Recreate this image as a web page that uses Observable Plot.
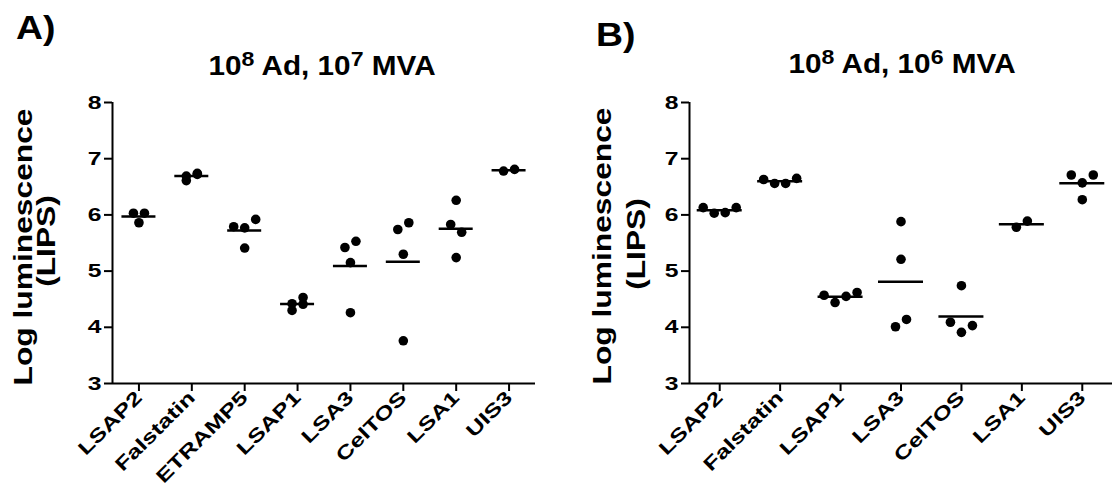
<!DOCTYPE html>
<html>
<head>
<meta charset="utf-8">
<script src="https://cdn.jsdelivr.net/npm/d3@7"></script>
<script src="https://cdn.jsdelivr.net/npm/@observablehq/plot@0.6"></script>
<style>
  html, body { margin: 0; padding: 0; background: #fff; }
  #wrap { position: relative; width: 1112px; height: 486px; overflow: hidden;
          font-family: "Liberation Sans", Arial, sans-serif; font-weight: bold; color: #000; }
  .panel { position: absolute; top: 0; }
  .lbl { position: absolute; white-space: nowrap; line-height: 1; }
  .sup { font-size: 0.78em; position: relative; top: -0.42em; }
  [aria-label$="-axis tick"] { stroke-width: 2px; }
  .tick line { stroke-width: 2px; }
</style>
</head>
<body>
<div id="wrap"></div>
<script>
// ---------------- data ----------------
const panelA_title = ["10", "8", " Ad, 10", "7", " MVA"];
const panelB_title = ["10", "8", " Ad, 10", "6", " MVA"];
const yLabelLine1 = "Log luminescence";
const yLabelLine2 = "(LIPS)";
const yTicks = [3, 4, 5, 6, 7, 8];

const panelA_categories = ["LSAP2", "Falstatin", "ETRAMP5", "LSAP1", "LSA3", "CelTOS", "LSA1", "UIS3"];
const panelA_values = [
  [6.03, 5.86, 6.03],
  [6.69, 6.72, 6.61, 6.74],
  [5.79, 5.41, 5.77, 5.92],
  [4.42, 4.41, 4.30, 4.53],
  [5.42, 5.53, 5.15, 4.26],
  [5.74, 5.86, 5.30, 3.76],
  [6.26, 5.83, 5.69, 5.24],
  [6.78, 6.81]
];

const panelB_categories = ["LSAP2", "Falstatin", "LSAP1", "LSA3", "CelTOS", "LSA1", "UIS3"];
const panelB_values = [
  [6.13, 6.03, 6.04, 6.13],
  [6.63, 6.56, 6.56, 6.65],
  [4.57, 4.44, 4.55, 4.62],
  [5.88, 5.21, 4.01, 4.14],
  [4.74, 4.09, 3.91, 4.03],
  [5.78, 5.89],
  [6.71, 6.57, 6.71, 6.27]
];

// ---------------- layout helpers ----------------
const H = 486, MT = 102, MB = 103;
const plotH = H - MT - MB;
const pxPerUnit = plotH / (yTicks[yTicks.length - 1] - yTicks[0]);

// Spread overlapping points horizontally (scatter-dot style)
function spread(cats, vals, spacingPx, maxPerRow, thresholdPx) {
  const pts = [];
  cats.forEach((c, i) => {
    const items = vals[i].map((v, k) => ({cat: c, i, v, k, off: 0}));
    const sorted = items.slice().sort((a, b) => a.v - b.v);
    const rows = [];
    let cur = [sorted[0]];
    for (let j = 1; j < sorted.length; j++) {
      if ((sorted[j].v - sorted[j - 1].v) * pxPerUnit < thresholdPx) cur.push(sorted[j]);
      else { rows.push(cur); cur = [sorted[j]]; }
    }
    rows.push(cur);
    for (const row of rows) {
      row.sort((a, b) => a.k - b.k);
      const nChunks = Math.ceil(row.length / maxPerRow);
      const size = Math.ceil(row.length / nChunks);
      for (let s = 0; s < row.length; s += size) {
        const chunk = row.slice(s, s + size);
        chunk.forEach((p, m) => { p.off = (m - (chunk.length - 1) / 2) * spacingPx; });
      }
    }
    pts.push(...items);
  });
  return pts;
}

// widen tick-label glyphs along the text direction
function stretch(svg, sel, k) {
  svg.querySelectorAll(sel).forEach(t => {
    const tr = t.getAttribute("transform") || "";
    t.setAttribute("transform", `${tr} scale(${k},1)`);
  });
}

function panel(cats, vals, opts) {
  const n = cats.length;
  const W = opts.width;
  const step = (W - opts.marginLeft - opts.marginRight) / n;
  const pts = spread(cats, vals, opts.spacing, opts.maxPerRow, 9);
  const means = cats.map((c, i) => ({i, m: d3.mean(vals[i])}));
  const half = opts.meanHalf / step;
  const svg = Plot.plot({
    width: W, height: H,
    marginLeft: opts.marginLeft, marginRight: opts.marginRight,
    marginTop: MT, marginBottom: MB,
    style: {fontFamily: "'Liberation Sans', Arial, sans-serif", fontWeight: "bold",
            fontSize: "19px", color: "#000", background: "transparent", overflow: "visible"},
    x: {domain: [-0.5, n - 0.5], ticks: d3.range(n), tickFormat: i => cats[i],
        tickRotate: -45, tickSize: 8, tickPadding: 3, label: null},
    y: {domain: [yTicks[0], yTicks[yTicks.length - 1]], ticks: yTicks, tickFormat: d => String(d),
        tickSize: 8, tickPadding: 3, label: null},
    marks: [
      Plot.ruleY([yTicks[0]], {stroke: "#000", strokeWidth: 2}),
      Plot.ruleX([-0.5], {stroke: "#000", strokeWidth: 2}),
      Plot.ruleY(means, {x1: d => d.i - half, x2: d => d.i + half, y: "m", stroke: "#000", strokeWidth: 2.5}),
      Plot.dot(pts, {x: d => d.i + d.off / step, y: "v", r: 4.8, fill: "#000", stroke: "none"})
    ]
  });
  svg.classList.add("panel");
  svg.style.left = opts.left + "px";
  stretch(svg, '[aria-label="x-axis tick label"] text', 1.33);
  stretch(svg, '[aria-label="y-axis tick label"] text', 1.3);
  return svg;
}

const wrap = document.getElementById("wrap");
wrap.appendChild(panel(panelA_categories, panelA_values,
  {left: 0, width: 556, marginLeft: 112, marginRight: 21, spacing: 11, maxPerRow: 3, meanHalf: 17}));
wrap.appendChild(panel(panelB_categories, panelB_values,
  {left: 556, width: 556, marginLeft: 133, marginRight: 0, spacing: 11, maxPerRow: 4, meanHalf: 22.5}));

// ---------------- text overlays ----------------
function addText(html, css) {
  const d = document.createElement("div");
  d.className = "lbl";
  d.innerHTML = html;
  Object.assign(d.style, css);
  wrap.appendChild(d);
  return d;
}
function titleHTML(parts) {
  return parts.map((p, k) => k % 2 === 1 ? `<span class="sup">${p}</span>` : p).join("");
}
addText("A)", {left: "16px", top: "10px", fontSize: "34px", transform: "scaleX(1.1)", transformOrigin: "left top"});
addText("B)", {left: "596px", top: "17px", fontSize: "34px", transform: "scaleX(1.1)", transformOrigin: "left top"});
addText(titleHTML(panelA_title), {left: "322px", top: "53px", fontSize: "27px", transform: "translateX(-50%) scaleX(1.1)"});
addText(titleHTML(panelB_title), {left: "902px", top: "51px", fontSize: "27px", transform: "translateX(-50%) scaleX(1.1)"});

const yl = [
  {t: yLabelLine1, x: 23, y: 247},
  {t: yLabelLine2, x: 46, y: 241},
  {t: yLabelLine1, x: 602, y: 246},
  {t: yLabelLine2, x: 636, y: 244}
];
yl.forEach(o => addText(o.t, {left: o.x + "px", top: o.y + "px", fontSize: "25px",
  transform: "translate(-50%,-50%) rotate(-90deg) scaleX(1.27)"}));
</script>
</body>
</html>
